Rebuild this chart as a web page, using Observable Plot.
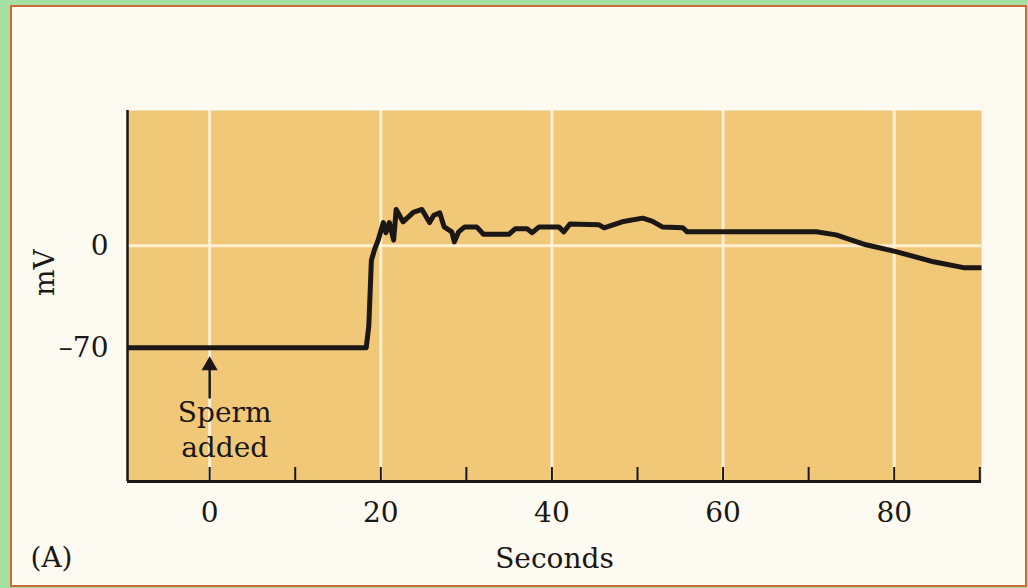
<!DOCTYPE html>
<html>
<head>
<meta charset="utf-8">
<script src="https://cdn.jsdelivr.net/npm/d3@7"></script>
<script src="https://cdn.jsdelivr.net/npm/@observablehq/plot@0.6"></script>
<style>
  html, body { margin: 0; padding: 0; background: #a6dfa2; }
  #page { position: relative; width: 1028px; height: 588px; overflow: hidden; background: #a6dfa2; }
  #paper { position: absolute; left: 10px; top: 5px; width: 1013px; height: 578px;
           border: 2px solid #cc6a3a; background: #fdfbf1; }
  #chart { position: absolute; left: 0; top: 0; }
</style>
</head>
<body>
<div id="page"><div id="paper"></div><div id="chart"></div></div>
<script>
// ---- data ----
const seconds = [-9.6, 18.3, 18.6, 18.9, 19.3, 19.7, 20.0, 20.3, 20.6, 21.0, 21.5, 21.8, 22.6, 23.8, 24.8, 25.7, 26.2, 26.9, 27.4, 28.3, 28.6, 29.1, 29.8, 31.2, 32.0, 35.0, 35.7, 37.1, 37.7, 38.5, 40.8, 41.4, 42.1, 45.5, 46.1, 48.2, 50.6, 51.7, 52.9, 55.3, 55.8, 57.6, 70.9, 73.2, 76.7, 80.2, 84.6, 88.1, 90.2];
const millivolts = [-70, -70, -55, -10, -2, 4, 10, 16, 9, 16, 4, 25, 16.5, 23, 25, 16, 21, 22.6, 13, 9.6, 2.7, 9.6, 13, 13, 8, 8, 11.7, 11.7, 9, 13, 13, 9.6, 15, 14.4, 12.4, 16.5, 19, 17, 13, 12.4, 9.6, 9.6, 9.6, 7.5, 0.7, -4, -11, -15, -15];
const xDomain = [-9.6, 90.2];
const yDomain = [-162, 93];
const xLabelTicks = [0, 20, 40, 60, 80];
const xMinorTicks = [0, 10, 20, 30, 40, 50, 60, 70, 80, 90];
const yTicks = [0, -70];
const xGrid = [0, 20, 40, 60, 80];
const yGrid = [0];
const annotationX = [0];
const annotationText = ["Sperm\nadded"];
const xLabel = "Seconds";
const yLabel = "mV";
const panelLabel = "(A)";

const trace = seconds.map((s, i) => ({s, mv: millivolts[i]}));
const ink = "#1a1714";
const fs = 28;

const chart = Plot.plot({
  width: 1028,
  height: 588,
  marginLeft: 127,
  marginRight: 47,
  marginTop: 110,
  marginBottom: 107,
  x: {domain: xDomain},
  y: {domain: yDomain},
  style: {background: "none", fontFamily: "'DejaVu Serif', serif", fontSize: fs + "px", color: ink},
  marks: [
    Plot.frame({fill: "#f1c878", stroke: null}),
    Plot.gridX(xGrid, {stroke: "#fff7e2", strokeOpacity: 0.85, strokeWidth: 3}),
    Plot.gridY(yGrid, {stroke: "#fff7e2", strokeOpacity: 0.85, strokeWidth: 3}),
    Plot.ruleY([yDomain[0]], {stroke: ink, strokeWidth: 3}),
    Plot.ruleX([xDomain[0]], {stroke: ink, strokeWidth: 2.5}),
    Plot.axisX(xMinorTicks, {tickSize: 14, dy: -14, text: null, label: null, stroke: ink, strokeWidth: 2}),
    Plot.axisX(xLabelTicks, {tickSize: 0, tickPadding: 21, label: null, fill: ink, fontSize: fs}),
    Plot.axisY(yTicks, {tickSize: 0, tickPadding: 19, label: null, fill: ink, fontSize: fs,
      tickFormat: d => d < 0 ? "\u2013" + (-d) : String(d)}),
    Plot.line(trace, {x: "s", y: "mv", stroke: ink, strokeWidth: 5, strokeLinejoin: "round", strokeLinecap: "butt"}),
    // annotation arrow and text
    Plot.vector(annotationX, {x: d => d, frameAnchor: "bottom", dy: -84, length: 30, rotate: 0, anchor: "start", r: 0, stroke: ink, strokeWidth: 2.5}),
    Plot.dot(annotationX, {x: d => d, frameAnchor: "bottom", dy: -116, symbol: "triangle", r: 6, fill: ink, stroke: null}),
    Plot.text(annotationText, {x: () => annotationX[0], frameAnchor: "bottom", dy: -84, dx: 15, text: d => d, lineAnchor: "top", lineHeight: 1.25, textAnchor: "middle", fill: ink, fontSize: fs}),
    // labels
    Plot.text([yLabel], {frameAnchor: "left", dx: -82, rotate: -90, text: d => d, fill: ink, fontSize: fs}),
    Plot.text([xLabel], {frameAnchor: "bottom", dy: 86, text: d => d, fill: ink, fontSize: fs}),
    Plot.text([panelLabel], {frameAnchor: "bottom-left", dx: -76, dy: 85, text: d => d, fill: ink, fontSize: fs, textAnchor: "middle"})
  ]
});
document.getElementById("chart").appendChild(chart);
</script>
</body>
</html>
